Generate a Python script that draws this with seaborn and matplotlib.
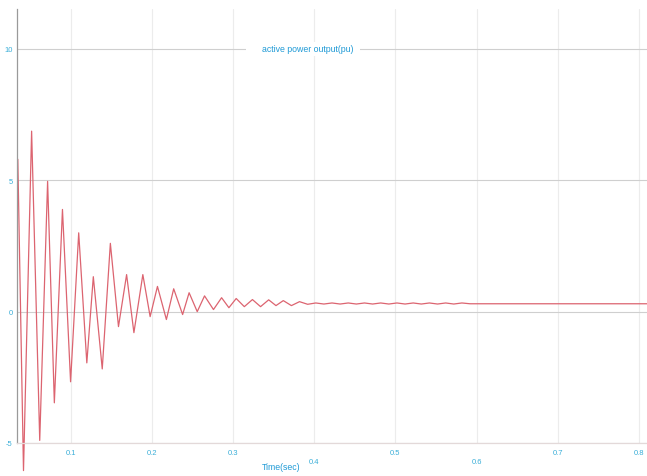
import matplotlib
matplotlib.use("Agg")
import matplotlib.pyplot as plt
import seaborn as sns
import pandas as pd

# ---- data (extrema of the damped oscillation) ----
time_s = [0.035, 0.042, 0.052, 0.062, 0.0717, 0.080, 0.090, 0.100, 0.110, 0.120,
          0.128, 0.139, 0.149, 0.159, 0.169, 0.178, 0.189, 0.198, 0.207, 0.218,
          0.227, 0.238, 0.246, 0.256, 0.265, 0.276, 0.286, 0.295, 0.304, 0.314,
          0.324, 0.334, 0.344, 0.353, 0.362, 0.372, 0.382, 0.392, 0.402, 0.412,
          0.422, 0.432, 0.442, 0.452, 0.462, 0.472, 0.482, 0.492, 0.502, 0.512,
          0.522, 0.532, 0.542, 0.552, 0.562, 0.572, 0.582, 0.592, 0.810]
power_pu = [5.8, -6.05, 6.87, -4.9, 4.96, -3.47, 3.89, -2.67, 3.0, -1.95,
            1.33, -2.18, 2.6, -0.57, 1.41, -0.8, 1.41, -0.19, 0.96, -0.3,
            0.87, -0.11, 0.72, 0.0, 0.6, 0.08, 0.53, 0.15, 0.5, 0.19,
            0.46, 0.19, 0.45, 0.23, 0.42, 0.23, 0.38, 0.28, 0.33, 0.29,
            0.33, 0.29, 0.33, 0.29, 0.33, 0.29, 0.33, 0.29, 0.33, 0.29,
            0.33, 0.29, 0.33, 0.29, 0.33, 0.29, 0.33, 0.30, 0.30]

y_ticks = [-5, 0, 5, 10]
y_tick_labels = ["-5", "0", "5", "10"]
x_major = [0.1, 0.2, 0.3, 0.5, 0.7, 0.8]
x_major_labels = ["0.1", "0.2", "0.3", "0.5", "0.7", "0.8"]
x_minor = [0.4, 0.6]
x_minor_labels = ["0.4", "0.6"]

title_text = "active power output(pu)"
xlabel_text = "Time(sec)"

df = pd.DataFrame({"time": time_s, "power": power_pu})

sns.set_style("white")
plt.rcParams["font.family"] = ["Liberation Sans Narrow", "Liberation Sans", "DejaVu Sans"]

W, H = 647, 477
fig = plt.figure(figsize=(W / 100, H / 100), dpi=100)
ax = fig.add_axes([17 / W, 1 - 444 / H, (W - 17) / W, (444 - 10) / H])

line_color = "#dc6470"
tick_color = "#3aaed8"
label_color = "#1f9ad6"

sns.lineplot(data=df, x="time", y="power", ax=ax, color=line_color,
             linewidth=0.9, estimator=None, sort=False, clip_on=False)

ax.set_xlim(0.034, 0.81)
ax.set_ylim(-5, 11.52)

ax.set_yticks(y_ticks)
ax.set_yticklabels(y_tick_labels)
ax.set_xticks(x_major)
ax.set_xticklabels(x_major_labels)
ax.set_xticks(x_minor, minor=True)
ax.set_xticklabels(x_minor_labels, minor=True)

ax.tick_params(axis="both", which="both", length=0, labelsize=5.5,
               labelcolor=tick_color)
ax.tick_params(axis="y", pad=3)
ax.tick_params(axis="x", which="major", pad=4)
ax.tick_params(axis="x", which="minor", pad=11)

ax.yaxis.grid(True, color="#cfcfcf", linewidth=0.8)
ax.xaxis.grid(True, which="both", color="#ececec", linewidth=0.8)
ax.set_axisbelow(True)

for s in ["top", "right"]:
    ax.spines[s].set_visible(False)
ax.spines["left"].set_color("#9a9a9a")
ax.spines["left"].set_linewidth(0.9)
ax.spines["bottom"].set_color("#e3d9d9")
ax.spines["bottom"].set_linewidth(0.9)

ax.set_xlabel(xlabel_text, color=label_color, fontsize=6.3)
ax.xaxis.set_label_coords((281 - 17) / (W - 17), -0.053)
ax.xaxis.label.set_va("center")
ax.set_ylabel("")

ax.text((308 - 17) / (W - 17), 10, title_text, transform=ax.get_yaxis_transform(),
        ha="center", va="center", fontsize=6.3, color=label_color,
        bbox=dict(boxstyle="square,pad=0.3", fc="white", ec="none"),
        zorder=5)
# widen the white gap around the title like the reference
ax.text((303 - 17) / (W - 17), 10, " " * 40, transform=ax.get_yaxis_transform(),
        ha="center", va="center", fontsize=7,
        bbox=dict(boxstyle="square,pad=0.2", fc="white", ec="none"), zorder=4)

fig.savefig("out.png", dpi=100)
